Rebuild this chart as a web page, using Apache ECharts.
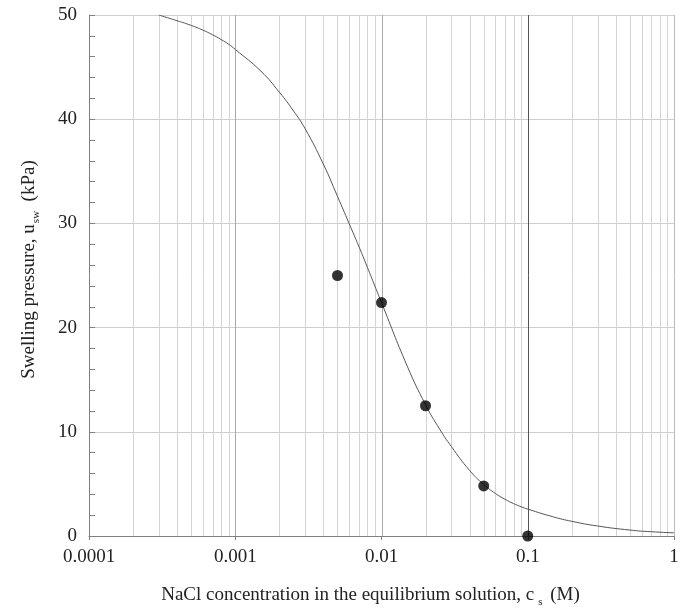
<!DOCTYPE html>
<html>
<head>
<meta charset="utf-8">
<script src="https://cdn.jsdelivr.net/npm/echarts@6/dist/echarts.min.js"></script>
<style>html,body{margin:0;padding:0;background:#fff}#c{width:691px;height:616px}</style>
</head>
<body>
<div id="c"></div>
<script>
// ---- data ----
const curveX = [0.0003,0.0004,0.0005,0.0006,0.0007,0.0008,0.0009,0.001,0.0015,0.002,0.0025,0.003,0.004,0.005,0.006,0.007,0.008,0.009,0.01,0.015,0.02,0.025,0.03,0.04,0.05,0.06,0.07,0.08,0.09,0.1,0.15,0.2,0.3,0.5,0.7,1];
const curveY = [50,49.45,49.0,48.55,48.1,47.65,47.2,46.7,44.6,42.6,40.8,39.1,35.7,32.6,30.0,27.8,25.8,24.0,22.4,16.3,12.6,10.25,8.6,6.3,4.95,4.09,3.52,3.11,2.81,2.58,1.83,1.41,0.96,0.57,0.41,0.30];
const measX = [0.005, 0.01, 0.02, 0.05, 0.1];
const measY = [25, 22.4, 12.5, 4.8, 0];
const xTickValues = [0.0001, 0.001, 0.01, 0.1, 1];
const xTickLabels = ['0.0001', '0.001', '0.01', '0.1', '1'];
const yTickLabels = ['0', '10', '20', '30', '40', '50'];
const minorFactors = [2, 3, 4, 5, 6, 7, 8, 9];
const decadeStarts = [0.0001, 0.001, 0.01, 0.1];

const FONT = 'Liberation Serif';
const chart = echarts.init(document.getElementById('c'), null, {renderer: 'canvas'});

// vertical grid lines: [x, styleIndex]
const gridColors = ['#d4d4d4', '#a8a8a8', '#555555', '#bbbbbb'];
const vLines = [];
decadeStarts.forEach(d => minorFactors.forEach(f => vLines.push([+(d * f).toPrecision(6), 0])));
vLines.push([0.001, 1], [0.01, 1], [0.1, 2], [1, 3]);

const option = {
  animation: false,
  backgroundColor: '#fff',
  grid: {left: 89, right: 17, top: 15, bottom: 80, containLabel: false},
  xAxis: {
    type: 'log', logBase: 10, min: 0.0001, max: 1,
    name: 'NaCl concentration in the equilibrium solution, c{sub|s} (M)',
    nameLocation: 'middle', nameGap: 47,
    nameTextStyle: {fontFamily: FONT, fontSize: 19, color: '#222', padding: [0, 22, 0, 0],
      rich: {sub: {fontFamily: FONT, fontSize: 11, color: '#222', padding: [14, 3, 0, 4]}}},
    axisLine: {show: true, lineStyle: {color: '#808080', width: 1}},
    axisTick: {show: true, length: 4, lineStyle: {color: '#808080'}},
    splitLine: {show: false},
    axisLabel: {fontFamily: FONT, fontSize: 19, color: '#222', margin: 12,
      formatter: v => {
        const i = xTickValues.findIndex(t => Math.abs(Math.log10(t) - Math.log10(v)) < 1e-6);
        return i >= 0 ? xTickLabels[i] : '';
      }}
  },
  yAxis: {
    type: 'value', min: 0, max: 50, interval: 10,
    name: 'Swelling pressure, u{sub|sw}  (kPa)',
    nameLocation: 'middle', nameGap: 47, nameRotate: 90,
    nameTextStyle: {fontFamily: FONT, fontSize: 19, color: '#222', padding: [0, 0, 0, 12],
      rich: {sub: {fontFamily: FONT, fontSize: 11, color: '#222', padding: [14, 0, 0, 1]}}},
    axisLine: {show: true, lineStyle: {color: '#808080', width: 1}},
    axisTick: {show: true, inside: true, length: 6, lineStyle: {color: '#808080'}},
    minorTick: {show: true, splitNumber: 5, length: 6, lineStyle: {color: '#808080'}},
    splitLine: {show: true, lineStyle: {color: '#cfcfcf', width: 1}},
    axisLabel: {fontFamily: FONT, fontSize: 19, color: '#222', margin: 12,
      formatter: v => yTickLabels[Math.round(v / 10)]}
  },
  series: [
    {
      type: 'custom', z: 1, silent: true,
      data: vLines,
      encode: {x: 0},
      renderItem: (params, api) => {
        const x = api.value(0);
        const p1 = api.coord([x, 0]);
        const p2 = api.coord([x, 50]);
        const px = Math.round(p1[0]) + 0.5;
        return {type: 'line', shape: {x1: px, y1: p1[1], x2: px, y2: p2[1]},
          style: {stroke: gridColors[api.value(1)], lineWidth: 1}};
      }
    },
    {
      type: 'line', z: 3,
      data: curveX.map((x, i) => [x, curveY[i]]),
      smooth: 0.5, showSymbol: false, symbol: 'none',
      lineStyle: {color: '#555', width: 1}
    },
    {
      type: 'scatter', z: 5, clip: false,
      data: measX.map((x, i) => [x, measY[i]]),
      symbol: 'circle', symbolSize: 11,
      itemStyle: {color: '#000'}
    }
  ]
};
chart.setOption(option);
</script>
</body>
</html>
